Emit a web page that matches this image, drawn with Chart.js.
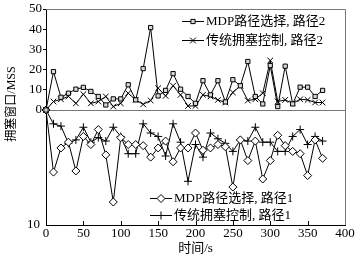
<!DOCTYPE html>
<html>
<head>
<meta charset="utf-8">
<script src="https://cdn.jsdelivr.net/npm/chart.js@4"></script>
<style>
  html, body { margin: 0; padding: 0; background: #fff; }
  #wrap { width: 363px; height: 263px; }
</style>
</head>
<body>
<div id="wrap"><canvas id="myChart"></canvas></div>
<script>
// time (s)
const times = [0, 10, 20, 30, 40, 50, 60, 70, 80, 90, 100, 110, 120, 130, 140, 150, 160, 170, 180,
               190, 200, 210, 220, 230, 240, 250, 260, 270, 280, 290, 300, 310, 320, 330, 340, 350, 360, 370];

// path 2 (upper half)
const mdpPath2 = [0, 19, 6.3, 8.3, 10.3, 11.2, 9.2, 6.7, 2.5, 5.5, 5.5, 12.5, 5, 20.5, 40.8, 7, 9.7, 18, 10.3,
                  6.7, 3.3, 14.5, 7.5, 14.5, 4, 15, 12, 24, 6.7, 3, 22, 1.7, 21.7, 3, 11.3, 11.3, 6.7, 9.7];
const tcpPath2 = [0, 4.2, 5.3, 6.7, 3.3, 7.8, 3.3, 4.2, 6.7, 1.7, 3.3, 8.3, 5, 2.8, 4.7, 10.8, 7, 12, 7.5,
                  2, 2, 7.5, 6.7, 5, 3.7, 8.7, 12, 4.7, 5.3, 8.3, 24.5, 4.2, 5, 3.3, 5.3, 5, 3.7, 3.7];

// path 1 (lower half, drawn downward)
const mdpPath1 = [0, 5.4, 3.3, 2.8, 5.3, 2.3, 3, 1.7, 3.9, 8, 2.4, 3, 3, 3.1, 4.1, 3.3, 2.7, 4.5, 3.3,
                  3.3, 2, 3.5, 3.3, 3, 3.2, 6.7, 2.6, 4.4, 2.7, 6, 4.4, 2.2, 3.1, 3.6, 3.8, 5.7, 2.6, 4.2];
const tcpPath1 = [0, 1.2, 1.4, 2.9, 2.6, 1.5, 2.8, 2.4, 2.7, 1.5, 2.3, 3.8, 3.8, 1.2, 2, 2.3, 4, 1.2, 2.8,
                  6.2, 3, 4.1, 2, 2.5, 2.9, 3.6, 2.6, 2.7, 1.5, 2.8, 2.8, 3.6, 3.6, 2.3, 1.7, 3, 2.3, 2.7];

const xTicks = [0, 50, 100, 150, 200, 250, 300, 350, 400];
const yTicksTop = [0, 10, 20, 30, 40, 50];

const seriesNames = ['MDP路径选择, 路径2', '传统拥塞控制, 路径2', 'MDP路径选择, 路径1', '传统拥塞控制, 路径1'];

const FONT = "'Liberation Serif', 'Noto Sans CJK SC', serif";

function toPoints(arr) {
    return times.map((t, i) => ({ x: t, y: arr[i] }));
}

// no extra label overflow padding, so the plot box sits where the original does
function fixAxis(s) {
    s.width = 46;
    s.paddingTop = 0;
    s.paddingBottom = 0;
}

const styles = [
    { pointStyle: 'rect', radius: 3, bg: '#d8d8d8' },
    { pointStyle: 'crossRot', radius: 4, bg: '#000' },
    { pointStyle: 'rectRot', radius: 4, bg: '#fff' },
    { pointStyle: 'cross', radius: 4, bg: '#000' }
];

const frameLines = {
    id: 'frameLines',
    beforeDatasetsDraw(chart) {
        const { ctx, chartArea: { left, top, right, bottom } } = chart;
        const zeroY = chart.scales.yTop.getPixelForValue(0);
        ctx.save();
        ctx.strokeStyle = '#777';
        ctx.lineWidth = 1;
        ctx.beginPath();
        ctx.moveTo(left, top + 0.5);
        ctx.lineTo(right + 0.5, top + 0.5);
        ctx.lineTo(right + 0.5, bottom);
        ctx.moveTo(left, Math.round(zeroY) + 0.5);
        ctx.lineTo(right, Math.round(zeroY) + 0.5);
        ctx.stroke();
        // inward ticks on x axis
        ctx.strokeStyle = '#000';
        ctx.beginPath();
        xTicks.slice(1, -1).forEach(v => {
            const px = Math.round(chart.scales.x.getPixelForValue(v)) + 0.5;
            ctx.moveTo(px, bottom);
            ctx.lineTo(px, bottom - 4);
        });
        ctx.stroke();
        ctx.restore();
    }
};

const legendAndTitles = {
    id: 'legendAndTitles',
    afterDraw(chart) {
        const { ctx } = chart;
        const rows = [
            { x: 182, y: 21, idx: 0 },
            { x: 182, y: 40, idx: 1 },
            { x: 150, y: 198, idx: 2 },
            { x: 150, y: 215, idx: 3 }
        ];
        ctx.save();
        rows.forEach(r => {
            const st = styles[r.idx];
            ctx.strokeStyle = '#000';
            ctx.lineWidth = 1;
            ctx.beginPath();
            ctx.moveTo(r.x, r.y + 0.5);
            ctx.lineTo(r.x + 22, r.y + 0.5);
            ctx.stroke();
            ctx.fillStyle = st.bg;
            Chart.helpers.drawPoint(ctx, { pointStyle: st.pointStyle, radius: st.radius, borderWidth: 1, rotation: 0 }, r.x + 11, r.y + 0.5);
            ctx.fillStyle = '#000';
            ctx.font = '13px ' + FONT;
            ctx.textAlign = 'left';
            ctx.textBaseline = 'middle';
            ctx.fillText(seriesNames[r.idx], r.x + 24, r.y + 1);
        });
        // y axis title
        ctx.translate(12, 104);
        ctx.rotate(-Math.PI / 2);
        ctx.font = '12px ' + FONT;
        ctx.textAlign = 'center';
        ctx.textBaseline = 'middle';
        ctx.fillText('拥塞窗口/MSS', 0, 0);
        ctx.restore();
    }
};

const datasets = [mdpPath2, tcpPath2, mdpPath1, tcpPath1].map((arr, i) => ({
    label: seriesNames[i],
    data: toPoints(arr),
    yAxisID: i < 2 ? 'yTop' : 'yBot',
    borderColor: '#000',
    borderWidth: 1,
    backgroundColor: styles[i].bg,
    pointStyle: styles[i].pointStyle,
    pointRadius: styles[i].radius,
    pointBorderWidth: 1,
    pointBorderColor: '#000',
    pointBackgroundColor: styles[i].bg,
    tension: 0,
    clip: false
}));

new Chart(document.getElementById('myChart'), {
    type: 'line',
    data: { datasets },
    plugins: [frameLines, legendAndTitles],
    options: {
        responsive: true,
        maintainAspectRatio: false,
        animation: false,
        layout: { padding: { top: 9, right: 18, left: 0, bottom: 0 } },
        plugins: {
            legend: { display: false },
            tooltip: { enabled: false }
        },
        scales: {
            x: {
                type: 'linear',
                min: 0,
                max: 400,
                afterBuildTicks: s => { s.ticks = xTicks.map(v => ({ value: v })); },
                ticks: { color: '#000', font: { family: FONT, size: 13 }, padding: 1, maxRotation: 0, autoSkip: false },
                grid: { display: false, drawTicks: false },
                border: { color: '#000', width: 1 },
                title: { display: true, text: '时间/s', color: '#000', font: { family: FONT, size: 13 }, padding: { top: 0, bottom: 7 } },
                afterFit: s => { s.height = 38; }
            },
            // first axis in the stack is placed at the bottom
            yBot: {
                type: 'linear',
                position: 'left',
                stack: 'y',
                stackWeight: 115,
                reverse: true,
                min: 0,
                max: 10,
                afterBuildTicks: s => { s.ticks = [{ value: 10 }]; },
                ticks: { color: '#000', font: { family: FONT, size: 13 }, padding: 6, autoSkip: false },
                grid: { drawOnChartArea: false, drawTicks: false },
                border: { color: '#000', width: 1 },
                afterFit: fixAxis
            },
            yTop: {
                type: 'linear',
                position: 'left',
                stack: 'y',
                stackWeight: 101,
                min: 0,
                max: 50,
                afterBuildTicks: s => { s.ticks = yTicksTop.map(v => ({ value: v })); },
                ticks: { color: '#000', font: { family: FONT, size: 13 }, padding: 1, autoSkip: false },
                grid: { drawOnChartArea: false, tickLength: 3, tickColor: '#000' },
                border: { color: '#000', width: 1 },
                afterFit: fixAxis
            }
        }
    }
});
</script>
</body>
</html>
